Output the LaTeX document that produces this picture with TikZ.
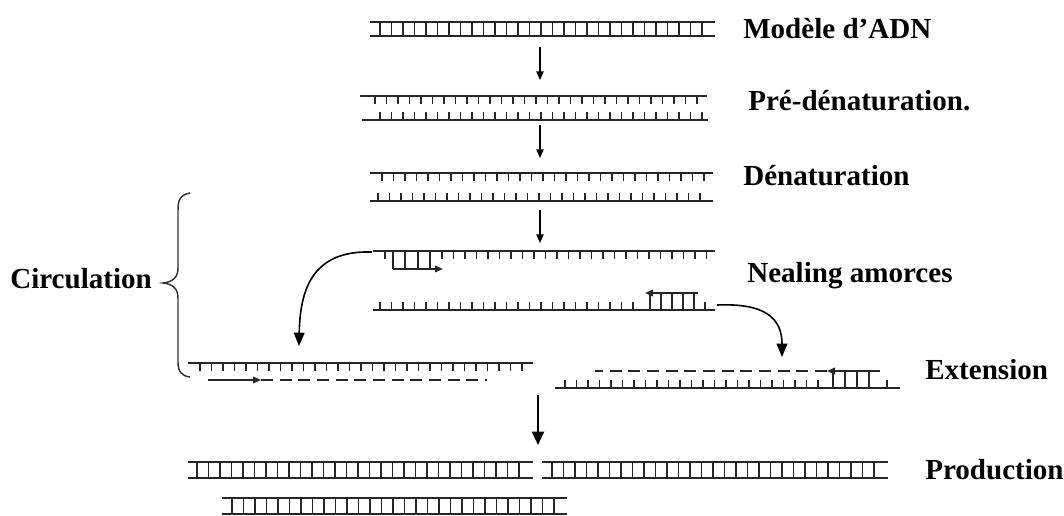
\documentclass[tikz,border=0pt]{standalone}
\usepackage{fontspec}
\setmainfont{Liberation Serif}
\usetikzlibrary{arrows.meta}
\newcommand{\rungset}[5]{\foreach \i in {0,...,#3} \draw[tick] ({#1+\i*#2},#4) -- ({#1+\i*#2},#5);}
\begin{document}
\begin{tikzpicture}[x=0.75pt,y=-0.75pt,
  strand/.style={line width=1.6pt,black!85},
  tick/.style={line width=1.15pt,black!85},
  primer/.style={line width=1.2pt,black!85},
  dna/.style={line width=1.3pt,black!85,dash pattern=on 9pt off 5pt},
  steparrow/.style={line width=1.1pt,-{Triangle[length=6.5pt,width=5.5pt]}},
  bigarrow/.style={line width=1.6pt,-{Triangle[length=10pt,width=9pt]}},
  curvearrow/.style={line width=1.2pt,-{Triangle[length=10pt,width=8pt]}},
  primerarrow/.style={primer,-{Triangle[length=6pt,width=5pt]}},
  lbl/.style={anchor=base west,inner sep=0pt,font=\fontsize{21.8}{25}\selectfont\bfseries}]
\useasboundingbox (0,0) rectangle (1064,515);

% labels
\node[lbl] (lmod) at (743,38) {Modèle d’ADN};
\node[lbl] (lpre) at (748,110) {Pré-dénaturation.};
\node[lbl] (lden) at (743,185) {Dénaturation};
\node[lbl] (lneal) at (747,282) {Nealing amorces};
\node[lbl] (lext) at (925,379) {Extension};
\node[lbl] (lprod) at (925,479) {Production};
\node[lbl] (lcirc) at (10,288) {Circulation};

% row 1: template ladder
\draw[strand] (370,22) -- (715,22);
\draw[strand] (370,36) -- (715,36);
\rungset{380}{11.5}{28}{22}{36}

% row 2: pre-denaturation
\draw[strand] (360,96) -- (707,96);
\rungset{375}{11.5}{28}{96}{104}
\draw[strand] (362,120) -- (708,120);
\rungset{380}{11.5}{28}{120}{112}

% row 3: denaturation
\draw[strand] (370,173) -- (713,173);
\rungset{382}{11.5}{28}{173}{181}
\draw[strand] (370,201) -- (713,201);
\rungset{378}{11.5}{28}{201}{193}

% row 4: annealing
\draw[strand] (373,251) -- (715,251);
\draw[tick] (385,251) -- (385,259);
\rungset{442}{11.5}{23}{251}{259}
\foreach \x in {393,405,418,430} \draw[tick] (\x,251) -- (\x,269);
\coordinate (p1s) at (393,269);
\coordinate (p1e) at (443,269);
\draw[primerarrow] (p1s) -- (p1e);

\draw[strand] (373,310) -- (715,310);
\rungset{380}{11.5}{22}{310}{302}
\draw[tick] (705,310) -- (705,302);
\foreach \x in {650,661,672,683,694} \draw[tick] (\x,310) -- (\x,293);
\coordinate (p2s) at (698,293);
\coordinate (p2e) at (645,293);
\draw[primerarrow] (p2s) -- (p2e);

% row 5 left: extension
\draw[strand] (188,363) -- (533,363);
\rungset{200}{11.5}{28}{363}{371}
\coordinate (p3s) at (208,380);
\coordinate (p3e) at (261,380);
\coordinate (d3e) at (487,380);
\draw[primerarrow] (p3s) -- (p3e);
\draw[dna] (p3e) -- (d3e);

% row 5 right: extension
\draw[strand] (555,388) -- (900,388);
\rungset{565}{11.5}{22}{388}{380}
\foreach \x in {833,845,857,869} \draw[tick] (\x,388) -- (\x,371);
\draw[tick] (887,388) -- (887,380);
\coordinate (p4s) at (880,371);
\coordinate (p4e) at (827,371);
\coordinate (d4e) at (595,371);
\draw[primerarrow] (p4s) -- (p4e);
\draw[dna] (p4e) -- (d4e);

% production
\draw[strand] (188,462) -- (533,462);
\draw[strand] (188,478) -- (533,478);
\rungset{197}{11.5}{28}{462}{478}
\draw[strand] (542,462) -- (888,462);
\draw[strand] (542,478) -- (888,478);
\rungset{552}{11.5}{28}{462}{478}
\draw[strand] (222,498) -- (567,498);
\draw[strand] (222,514) -- (567,514);
\rungset{232}{11.5}{28}{498}{514}

% step arrows
\coordinate (a1s) at (540,47);  \coordinate (a1e) at (540,80);
\coordinate (a2s) at (540,125); \coordinate (a2e) at (540,158);
\coordinate (a3s) at (540,210); \coordinate (a3e) at (540,243);
\coordinate (a4s) at (538,395); \coordinate (a4e) at (538,445);
\draw[steparrow] (a1s) -- (a1e);
\draw[steparrow] (a2s) -- (a2e);
\draw[steparrow] (a3s) -- (a3e);
\draw[bigarrow] (a4s) -- (a4e);

% curved arrows
\coordinate (c1s) at (372,252); \coordinate (c1e) at (299,346);
\draw[curvearrow] (c1s) .. controls (312,250) and (300,290) .. (c1e);
\coordinate (c2s) at (717,305); \coordinate (c2e) at (782,357);
\draw[curvearrow] (c2s) .. controls (765,303) and (782,318) .. (c2e);

% brace
\coordinate (bt) at (190,193);
\coordinate (bb) at (190,377);
\coordinate (btip) at (163,283);
\draw[line width=1.1pt,black!80] (bt) .. controls (180,195) and (178,200) .. (178,210)
  -- (178,268) .. controls (178,278) and (172,282) .. (btip)
  .. controls (172,284) and (178,288) .. (178,298)
  -- (178,362) .. controls (178,372) and (182,376) .. (bb);
\end{tikzpicture}
\end{document}
